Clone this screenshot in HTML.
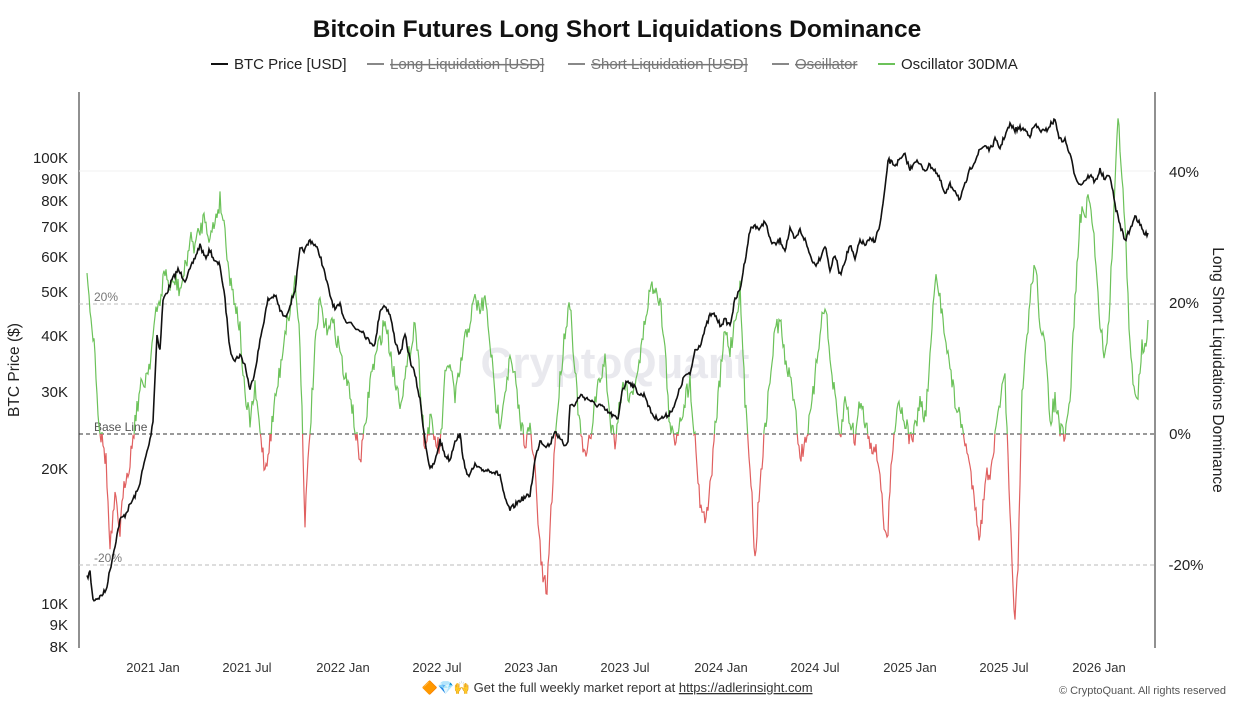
<!DOCTYPE html>
<html><head><meta charset="utf-8"><style>
body{margin:0;background:#fff;font-family:"Liberation Sans","Noto Sans CJK SC",sans-serif;}
svg{display:block}
</style></head><body>
<svg id="s" width="1241" height="701" xmlns="http://www.w3.org/2000/svg" font-family="Liberation Sans, sans-serif">
<text x="617" y="37" text-anchor="middle" font-size="24.5" font-weight="bold" fill="#111">Bitcoin Futures Long Short Liquidations Dominance</text>
<g font-size="15" fill="#222">
<line x1="211" y1="64" x2="228" y2="64" stroke="#111" stroke-width="2"/><text x="234" y="69">BTC Price [USD]</text>
<line x1="367" y1="64" x2="384" y2="64" stroke="#888" stroke-width="2"/><text x="390" y="69" fill="#777" text-decoration="line-through">Long Liquidation [USD]</text>
<line x1="568" y1="64" x2="585" y2="64" stroke="#888" stroke-width="2"/><text x="591" y="69" fill="#777" text-decoration="line-through">Short Liquidation [USD]</text>
<line x1="772" y1="64" x2="789" y2="64" stroke="#888" stroke-width="2"/><text x="795" y="69" fill="#777" text-decoration="line-through">Oscillator</text>
<line x1="878" y1="64" x2="895" y2="64" stroke="#6cc25a" stroke-width="2"/><text x="901" y="69">Oscillator 30DMA</text>
</g>
<line x1="79" y1="92" x2="79" y2="648" stroke="#222"/>
<line x1="1155" y1="92" x2="1155" y2="648" stroke="#222"/>
<line x1="79" y1="171" x2="1155" y2="171" stroke="#f2f2f2"/>
<line x1="79" y1="304" x2="1155" y2="304" stroke="#bbb" stroke-dasharray="4,3"/>
<line x1="79" y1="565" x2="1155" y2="565" stroke="#bbb" stroke-dasharray="4,3"/>
<line x1="79" y1="434" x2="1155" y2="434" stroke="#333" stroke-dasharray="4,3"/>
<text x="94" y="301" font-size="12" fill="#777">20%</text>
<text x="94" y="431" font-size="12" fill="#555">Base Line</text>
<text x="94" y="562" font-size="12" fill="#777">-20%</text>
<text x="615" y="378" text-anchor="middle" font-size="44" font-weight="bold" fill="#e4e4ea" opacity="0.8">CryptoQuant</text>
<g font-size="15" fill="#222" text-anchor="end">
<text x="68" y="163">100K</text><text x="68" y="184">90K</text><text x="68" y="206">80K</text><text x="68" y="232">70K</text><text x="68" y="262">60K</text><text x="68" y="297">50K</text><text x="68" y="341">40K</text><text x="68" y="397">30K</text><text x="68" y="474">20K</text><text x="68" y="609">10K</text><text x="68" y="630">9K</text><text x="68" y="652">8K</text>
</g>
<g font-size="15" fill="#222" text-anchor="middle">
<text x="1184" y="177">40%</text><text x="1184" y="308">20%</text><text x="1180" y="439">0%</text><text x="1186" y="570">-20%</text>
</g>
<text transform="translate(19,370) rotate(-90)" text-anchor="middle" font-size="15.5" fill="#222">BTC Price ($)</text>
<text transform="translate(1213,370) rotate(90)" text-anchor="middle" font-size="15.5" fill="#222">Long Short Liquidations Dominance</text>
<g font-size="13" fill="#333" text-anchor="middle">
<text x="153" y="672">2021 Jan</text><text x="247" y="672">2021 Jul</text><text x="343" y="672">2022 Jan</text><text x="437" y="672">2022 Jul</text><text x="531" y="672">2023 Jan</text><text x="625" y="672">2023 Jul</text><text x="721" y="672">2024 Jan</text><text x="815" y="672">2024 Jul</text><text x="910" y="672">2025 Jan</text><text x="1004" y="672">2025 Jul</text><text x="1099" y="672">2026 Jan</text>
</g>
<text x="617" y="692" text-anchor="middle" font-size="13" fill="#333">🔶💎🙌 Get the full weekly market report at <tspan text-decoration="underline">https://adlerinsight.com</tspan></text>
<text x="1226" y="694" text-anchor="end" font-size="11" fill="#555">© CryptoQuant. All rights reserved</text>
<defs>
<clipPath id="up"><rect x="79" y="80" width="1076" height="354"/></clipPath>
<clipPath id="dn"><rect x="79" y="434" width="1076" height="220"/></clipPath>
</defs>
<g id="osc"></g>
<polyline id="btc" fill="none" stroke="#111" stroke-width="1.6"/>
</svg>
<script>
var btc=[87,578,90,572,93,600,100,597,106,590,110,570,115,545,120,520,125,515,130,505,138,490,145,460,150,440,153,420,157,335,160,350,163,300,168,290,172,280,178,270,185,280,190,270,196,255,200,245,205,258,210,250,215,262,220,265,225,300,230,350,235,360,240,355,245,365,250,390,255,370,262,330,268,300,275,295,280,310,285,318,290,305,295,290,300,250,305,250,310,240,315,245,320,255,325,275,330,295,335,310,340,305,345,320,350,322,355,328,362,330,368,340,375,345,380,310,385,305,390,315,395,340,400,355,405,335,410,360,415,375,420,400,425,440,430,470,435,462,440,440,445,455,450,460,455,440,460,435,465,470,470,475,475,465,480,470,490,470,500,475,505,500,510,510,520,500,530,495,535,460,540,440,545,445,550,445,555,430,560,440,565,445,568,440,570,405,575,405,580,395,590,400,595,405,600,405,605,410,612,415,618,420,622,390,628,380,635,388,640,395,645,395,650,410,655,418,662,418,668,415,675,405,680,388,685,375,690,375,695,350,700,345,705,330,710,315,715,315,720,325,725,320,730,325,735,300,740,290,745,260,750,230,755,225,760,230,765,220,770,240,775,245,780,240,785,250,790,230,795,240,800,230,805,240,810,255,815,265,820,258,825,245,830,270,835,255,840,275,845,260,850,245,855,260,860,240,865,245,870,240,875,240,880,225,885,190,888,160,895,165,900,160,905,155,910,170,915,160,920,165,925,170,930,165,935,170,940,180,945,195,950,185,955,190,960,200,965,185,970,170,975,160,980,150,985,145,990,150,995,140,1000,148,1005,135,1010,125,1015,130,1020,128,1025,130,1030,135,1035,125,1040,130,1045,132,1050,125,1055,120,1060,140,1065,140,1070,155,1075,175,1080,185,1085,180,1090,175,1095,182,1100,170,1105,180,1110,175,1115,205,1120,225,1125,240,1130,230,1135,215,1140,225,1145,235,1148,233];
var osc=[87,265,90,310,95,350,98,410,100,430,103,445,106,460,110,550,115,500,120,530,125,480,130,460,135,420,140,390,145,380,150,360,155,320,160,300,165,270,170,290,175,280,180,290,185,270,190,240,195,245,200,230,205,215,210,240,215,220,220,200,225,230,230,280,235,300,240,330,245,400,250,420,255,390,260,430,265,470,270,440,275,400,280,370,285,330,290,310,295,280,300,340,305,520,310,430,315,350,320,300,325,330,330,320,335,330,340,350,345,380,350,390,355,430,360,460,365,430,370,380,375,360,380,340,385,320,390,350,395,380,400,400,405,380,410,350,415,320,420,380,425,450,430,420,435,440,440,450,445,380,450,360,455,400,460,370,465,340,470,320,475,300,480,310,485,300,490,340,495,400,500,420,505,390,510,360,515,380,520,420,525,440,530,430,535,470,540,550,543,580,547,590,550,530,555,440,560,380,565,330,570,300,575,370,580,430,585,460,590,440,595,400,600,380,605,360,610,420,615,440,620,400,625,380,630,400,635,380,640,360,645,320,650,290,655,285,660,300,665,350,670,430,675,440,680,420,685,400,690,380,695,440,700,500,705,520,710,490,715,430,720,380,725,330,730,350,735,320,740,290,745,400,750,460,755,560,760,480,765,430,770,380,775,330,780,320,785,360,790,380,795,400,800,460,805,440,810,420,815,380,820,330,825,300,830,360,835,400,840,440,845,400,850,420,855,440,860,400,865,420,870,440,875,450,880,470,885,540,888,530,892,450,898,400,905,420,910,440,915,430,920,400,925,420,930,360,935,280,940,300,945,330,950,370,955,400,960,420,965,440,970,470,975,500,980,540,985,480,990,470,995,440,1000,400,1005,380,1010,520,1015,620,1018,570,1022,400,1025,360,1030,300,1035,260,1040,320,1045,350,1050,420,1055,400,1060,430,1065,440,1070,400,1075,300,1080,220,1085,210,1090,200,1095,250,1100,320,1105,360,1110,300,1115,180,1118,120,1122,170,1126,250,1130,350,1135,400,1138,390,1142,340,1145,350,1148,320];
var seed=7;function r(){seed=(seed*16807)%2147483647;return seed/2147483647-0.5;}
function dense(a,step,amp){var out=[];for(var i=0;i<a.length-2;i+=2){var x0=a[i],y0=a[i+1],x1=a[i+2],y1=a[i+3];for(var x=x0;x<x1;x+=step){var t=(x-x0)/(x1-x0);out.push(x.toFixed(1)+","+(y0+(y1-y0)*t+r()*amp).toFixed(1));}}out.push(a[a.length-2]+","+a[a.length-1]);return out.join(" ");}
document.getElementById("btc").setAttribute("points",dense(btc,1,5));
var p=dense(osc,1,20);
document.getElementById("osc").innerHTML='<polyline points="'+p+'" fill="none" stroke="#6cc25a" stroke-width="1.2" clip-path="url(#up)"/><polyline points="'+p+'" fill="none" stroke="#e06060" stroke-width="1.2" clip-path="url(#dn)"/>';
</script>
</body></html>
